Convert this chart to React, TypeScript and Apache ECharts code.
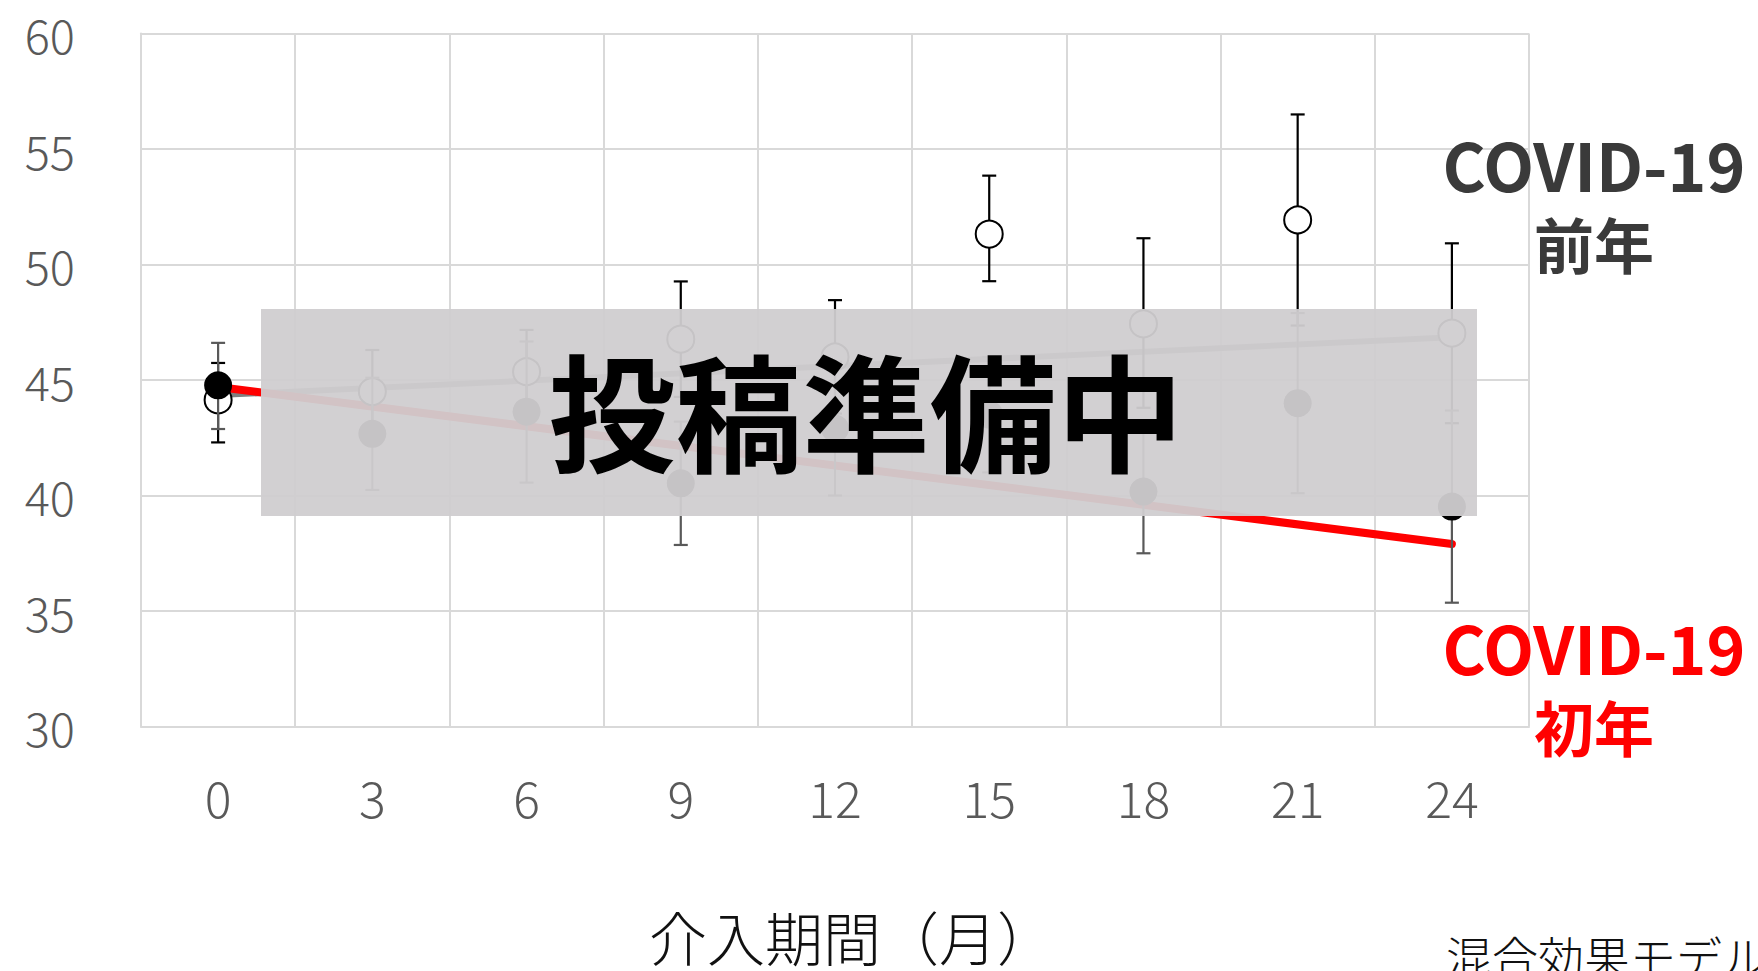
import React, { useEffect, useRef } from "react";
import * as echarts from "echarts";

// Intervention period in months (category axis)
const months = ["0", "3", "6", "9", "12", "15", "18", "21", "24"];

// Year before COVID-19 (open circles): mean and error-bar ends
const preMean = [44.14, 44.5, 45.36, 46.77, 46.0, 51.32, 47.43, 51.93, 47.03];
const preLow = [42.3, 42.7, 43.56, 44.27, 43.55, 49.28, 43.8, 47.36, 43.13];
const preHigh = [45.74, 46.3, 47.17, 49.27, 48.46, 53.85, 51.14, 56.5, 50.92];

// First COVID-19 year (filled circles): mean and error-bar ends
const covMean = [44.77, 42.67, 43.63, 40.53, 42.9, 43.5, 40.17, 44.0, 39.52];
const covLow = [42.88, 40.24, 40.56, 37.86, 40.0, 41.0, 37.5, 40.1, 35.36];
const covHigh = [46.61, 45.1, 46.67, 43.2, 45.8, 46.0, 42.84, 47.9, 43.68];

// Mixed-effects model fitted lines (start / end values)
const preFit = [44.35, 46.85];
const covFit = [44.7, 37.9];

const yTicks = { min: 30, max: 60, interval: 5 };

const FONT = "'Noto Sans CJK JP', 'Noto Sans', sans-serif";

function errorBarSeries(low: number[], high: number[], color: string, z: number) {
  return {
    type: "custom",
    z,
    data: months.map((m, i) => [i, low[i], high[i]]),
    encode: { x: 0, y: [1, 2] },
    renderItem: (_params: any, api: any) => {
      const idx = api.value(0);
      const lo = api.coord([idx, api.value(1)]);
      const hi = api.coord([idx, api.value(2)]);
      const cap = 7;
      const style = { stroke: color, lineWidth: 2.2 };
      return {
        type: "group",
        children: [
          { type: "line", shape: { x1: lo[0], y1: lo[1], x2: hi[0], y2: hi[1] }, style },
          { type: "line", shape: { x1: lo[0] - cap, y1: lo[1], x2: lo[0] + cap, y2: lo[1] }, style },
          { type: "line", shape: { x1: hi[0] - cap, y1: hi[1], x2: hi[0] + cap, y2: hi[1] }, style },
        ],
      };
    },
  };
}

export default function App() {
  const ref = useRef<HTMLDivElement>(null);

  useEffect(() => {
    if (!ref.current) return;
    const chart = echarts.init(ref.current, undefined, { renderer: "svg" });
    const last = months.length - 1;

    chart.setOption({
      animation: false,
      backgroundColor: "#ffffff",
      grid: { left: 141, right: 229, top: 33.6, bottom: 244.5, containLabel: false },
      xAxis: {
        type: "category",
        data: months,
        boundaryGap: true,
        axisLine: { show: true, lineStyle: { color: "#d9d9d9", width: 2 } },
        axisTick: { show: false },
        splitLine: { show: true, lineStyle: { color: "#d9d9d9", width: 2 } },
        axisLabel: { color: "#595959", fontSize: 50, fontWeight: 300, fontFamily: FONT, margin: 44 },
      },
      yAxis: {
        type: "value",
        min: yTicks.min,
        max: yTicks.max,
        interval: yTicks.interval,
        axisLine: { show: true, lineStyle: { color: "#d9d9d9", width: 2 } },
        axisTick: { show: false },
        splitLine: { show: true, lineStyle: { color: "#d9d9d9", width: 2 } },
        axisLabel: { color: "#595959", fontSize: 47, fontWeight: 300, fontFamily: FONT, margin: 66 },
      },
      series: [
        {
          type: "line",
          z: 3,
          data: [
            [months[0], preFit[0]],
            [months[last], preFit[1]],
          ],
          symbol: "none",
          lineStyle: { color: "#7f7f7f", width: 6 },
        },
        {
          type: "line",
          z: 4,
          data: [
            [months[0], covFit[0]],
            [months[last], covFit[1]],
          ],
          symbol: "none",
          lineStyle: { color: "#ff0000", width: 8, cap: "round" },
        },
        errorBarSeries(preLow, preHigh, "#000000", 5),
        {
          type: "scatter",
          z: 6,
          data: preMean,
          symbol: "circle",
          symbolSize: 27,
          itemStyle: { color: "#ffffff", borderColor: "#000000", borderWidth: 2, opacity: 1 },
        },
        errorBarSeries(covLow, covHigh, "#595959", 7),
        {
          type: "scatter",
          z: 8,
          data: covMean,
          symbol: "circle",
          symbolSize: 28,
          itemStyle: { color: "#000000", opacity: 1 },
        },
      ],
      graphic: [
        {
          type: "rect",
          z: 100,
          shape: { x: 261, y: 309, width: 1216, height: 207 },
          style: { fill: "rgba(208,206,208,0.95)" },
        },
        {
          type: "text",
          z: 101,
          x: 866,
          y: 408,
          style: {
            text: "投稿準備中",
            fill: "#000000",
            fontSize: 127,
            fontWeight: "bold",
            fontFamily: FONT,
            align: "center",
            verticalAlign: "middle",
          },
        },
        {
          type: "text",
          z: 101,
          x: 1594,
          y: 163,
          style: {
            text: "COVID-19",
            fill: "#3a3a3a",
            fontSize: 66,
            fontWeight: "bold",
            fontFamily: FONT,
            align: "center",
            verticalAlign: "middle",
          },
        },
        {
          type: "text",
          z: 101,
          x: 1594,
          y: 242,
          style: {
            text: "前年",
            fill: "#3a3a3a",
            fontSize: 60,
            fontWeight: "bold",
            fontFamily: FONT,
            align: "center",
            verticalAlign: "middle",
          },
        },
        {
          type: "text",
          z: 101,
          x: 1594,
          y: 646,
          style: {
            text: "COVID-19",
            fill: "#ff0000",
            fontSize: 66,
            fontWeight: "bold",
            fontFamily: FONT,
            align: "center",
            verticalAlign: "middle",
          },
        },
        {
          type: "text",
          z: 101,
          x: 1594,
          y: 725,
          style: {
            text: "初年",
            fill: "#ff0000",
            fontSize: 60,
            fontWeight: "bold",
            fontFamily: FONT,
            align: "center",
            verticalAlign: "middle",
          },
        },
        {
          type: "text",
          z: 101,
          x: 852,
          y: 936,
          style: {
            text: "介入期間（月）",
            fill: "#111111",
            fontSize: 58,
            fontWeight: 300,
            fontFamily: FONT,
            align: "center",
            verticalAlign: "middle",
          },
        },
        {
          type: "text",
          z: 101,
          x: 1446,
          y: 932,
          style: {
            text: "混合効果モデル",
            fill: "#111111",
            fontSize: 46,
            fontWeight: 300,
            fontFamily: FONT,
            align: "left",
            verticalAlign: "top",
          },
        },
      ],
    });

    return () => chart.dispose();
  }, []);

  return (
    <div
      ref={ref}
      style={{ position: "fixed", left: 0, top: 0, width: 1758, height: 971, background: "#ffffff" }}
    />
  );
}
